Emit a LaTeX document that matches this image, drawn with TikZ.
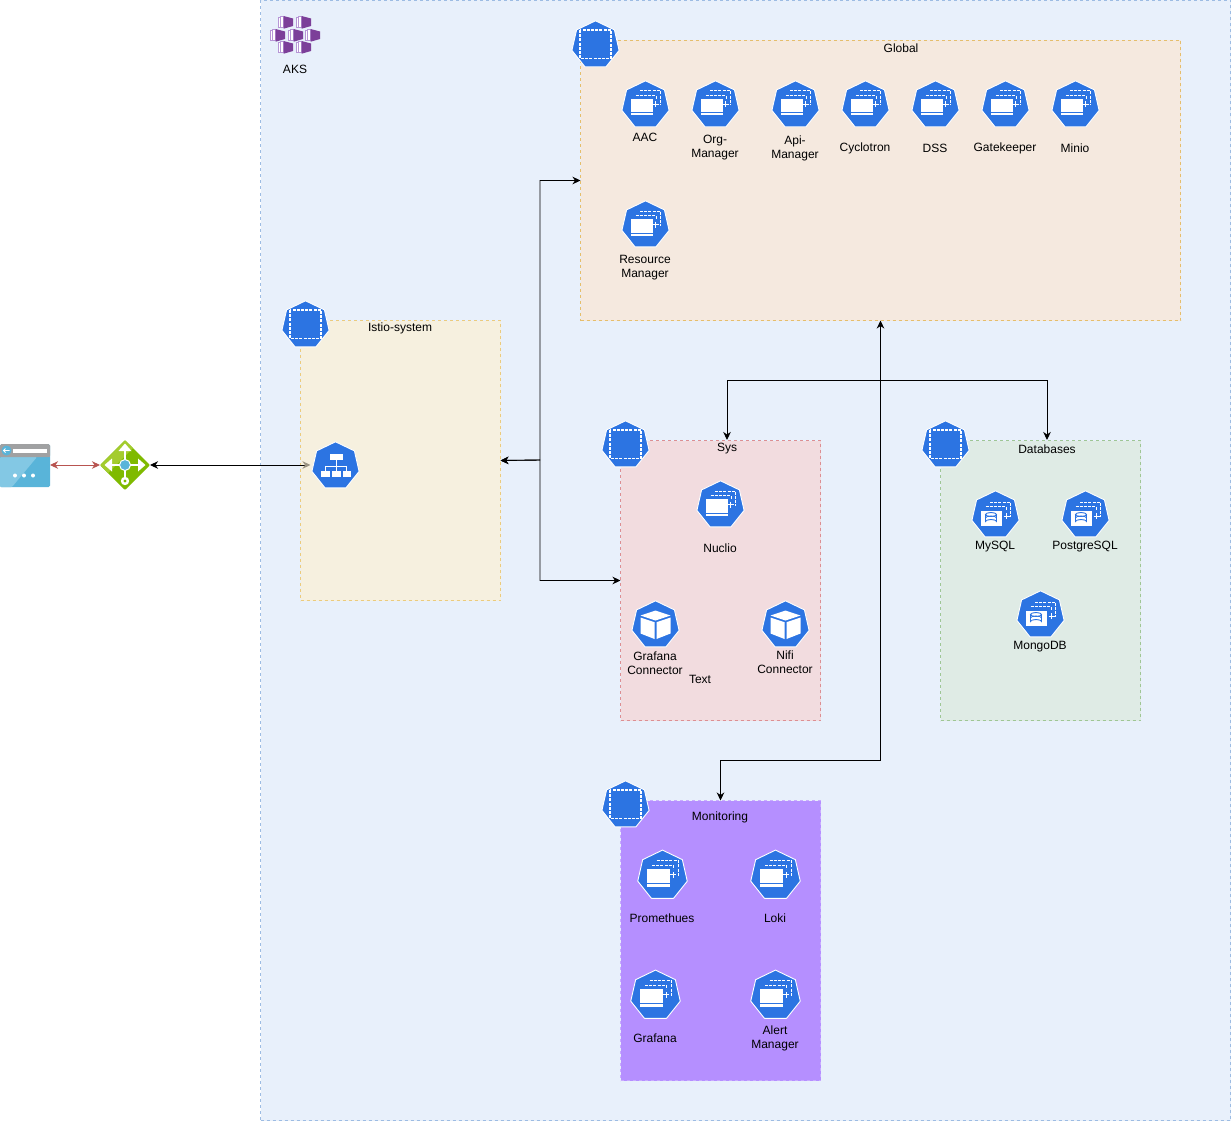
\documentclass[tikz,border=0pt]{standalone}
\usepackage{fontspec}
\setmainfont{Liberation Sans}
\usetikzlibrary{arrows.meta,calc}
\definecolor{kblue}{HTML}{2C74E2}
\definecolor{akspurple}{HTML}{7C3F99}
\definecolor{akslight}{HTML}{B796D6}
\definecolor{aksfill}{HTML}{E8F0FB}
\definecolor{aksline}{HTML}{9DBCE3}
\definecolor{gfill}{HTML}{F5E9DF}
\definecolor{gline}{HTML}{E5BE6C}
\definecolor{ifill}{HTML}{F6F0DF}
\definecolor{iline}{HTML}{EBCB7E}
\definecolor{sfill}{HTML}{F2DCDF}
\definecolor{sline}{HTML}{DC8F93}
\definecolor{dfill}{HTML}{DFEBE5}
\definecolor{dline}{HTML}{9FC695}
\definecolor{mfill}{HTML}{B58FFF}
\definecolor{mline}{HTML}{C9ABFF}
\definecolor{redlink}{HTML}{B85450}
\definecolor{graytip}{HTML}{9C9585}
\definecolor{gwdark}{HTML}{7FBA00}
\definecolor{gwlight}{HTML}{A4CC2E}
\definecolor{azblue}{HTML}{59B4D9}
\definecolor{azlight}{HTML}{83C8E4}
\definecolor{azgray}{HTML}{A0A1A2}
\newcommand{\hept}{(0,-24.2) -- (18.9,-15.1) -- (23.6,5.4) -- (10.5,21.8) -- (-10.5,21.8) -- (-23.6,5.4) -- (-18.9,-15.1) -- cycle}
\tikzset{
  x=1pt,y=-1pt,
  tipb/.tip={Stealth[length=8pt,width=7.5pt,inset=2.5pt]},
  every node/.style={font=\fontsize{12}{14}\selectfont,inner sep=0pt,outer sep=0pt},
  box/.style={draw=#1,dash pattern=on 3pt off 3pt,line width=0.8pt},
  lbl/.style={align=center,text=black},
  hook/.style={minimum width=50pt,minimum height=46pt},
  link/.style={line width=0.9pt,{tipb}-{tipb}},
  heptbase/.style={fill=kblue,draw=white,line width=0.9pt,line join=round},
  dashw/.style={draw=white,line width=1pt,dash pattern=on 3pt off 1.2pt},
  pics/ns/.style={code={
    \path[heptbase] \hept;
    \draw[dashw,line width=1.2pt] (-15.5,-15) rectangle (15.5,13.5);
  }},
  pics/deploy/.style={code={
    \path[heptbase] \hept;
    \draw[dashw] (-5.5,-14) -- (15,-14) -- (15,0.5);
    \draw[dashw] (-10,-9.5) -- (10.5,-9.5) -- (10.5,-6);
    \draw[white,line width=1pt] (7,-0.5) -- (13,-0.5) (10,-3.5) -- (10,2.5);
    \fill[white] (-15,-6) rectangle (7,7.5);
    \fill[white] (-15,8.5) rectangle (7,10.5);
  }},
  pics/dbdeploy/.style={code={
    \path[heptbase] \hept;
    \draw[dashw] (-5.5,-13) -- (15,-13) -- (15,1.5);
    \draw[dashw] (-10,-9) -- (10.5,-9) -- (10.5,-5);
    \draw[white,line width=1pt] (8,1) -- (14,1) (11,-2) -- (11,4);
    \fill[white] (-15,-4) rectangle (6,11);
    \draw[kblue,fill=white,line width=0.9pt] (-10,-0.5) -- (-10,6.5) arc[start angle=180,end angle=360,x radius=5.5,y radius=2] -- (1,-0.5);
    \draw[kblue,fill=white,line width=0.9pt] (-4.5,-0.5) ellipse[x radius=5.5,y radius=2];
    \draw[kblue,line width=0.8pt] (-10,3) arc[start angle=180,end angle=360,x radius=5.5,y radius=2];
  }},
  pics/pod/.style={code={
    \path[heptbase] \hept;
    \fill[white] (0,-14.5) -- (15,-9.5) -- (0,-4.5) -- (-15,-9.5) -- cycle;
    \fill[white] (-15,-7.5) -- (-1,-2.8) -- (-1,14) -- (-15,8.5) -- cycle;
    \fill[white] (15,-7.5) -- (1,-2.8) -- (1,14) -- (15,8.5) -- cycle;
  }},
  pics/svc/.style={code={
    \path[heptbase] \hept;
    \fill[white] (-6,-12) rectangle (7,-6);
    \draw[white,line width=1pt] (0.5,-6) -- (0.5,5) (-10.5,5) -- (-10.5,0.5) -- (11,0.5) -- (11,5);
    \fill[white] (-15,4.5) rectangle (-6,10.5);
    \fill[white] (-4,4.5) rectangle (5,10.5);
    \fill[white] (7,4.5) rectangle (15.5,10.5);
  }},
  pics/akscube/.style={code={
    \draw[akslight,fill=white,line width=0.7pt] (0,1.5) rectangle (2.2,11);
    \draw[akslight,fill=white,line width=0.7pt] (2.8,0.8) rectangle (5,11.8);
    \fill[akspurple] (5.6,0) -- (15,2.5) -- (15,10) -- (5.6,12.7) -- cycle;
  }}
}
\begin{document}
\begin{tikzpicture}
\useasboundingbox (0,0) rectangle (1231,1121);
\fill[white] (0,0) rectangle (1231,1121);

% containers
\node[box=aksline,fill=aksfill,minimum width=970pt,minimum height=1120pt] (aks) at (745.5,560.5) {};
\node[box=gline,fill=gfill,minimum width=600pt,minimum height=280pt] (global) at (880.5,180.5) {};
\node[box=iline,fill=ifill,minimum width=200pt,minimum height=280pt] (istio) at (400.5,460.5) {};
\node[box=sline,fill=sfill,minimum width=200pt,minimum height=280pt] (sys) at (720.5,580.5) {};
\node[box=dline,fill=dfill,minimum width=200pt,minimum height=280pt] (db) at (1040.5,580.5) {};
\node[box=mline,fill=mfill,minimum width=200pt,minimum height=280pt] (mon) at (720.5,940.5) {};

% titles
\node[lbl] (tglobal) at (901,48.5) {Global};
\node[lbl] (tistio) at (400,328.5) {Istio-system};
\node[lbl] (tsys) at (727,449) {Sys};
\node[lbl] (tdb) at (1047,449) {Databases};
\node[lbl] (tmon) at (720,817) {Monitoring};
\node[lbl] (taks) at (295,69) {AKS};

% AKS icon
\foreach \px/\py in {278/16,296/16,270/29,288/29,305/29,278/41,296/41}
  \pic at (\px,\py) {akscube};

% hook nodes for connectors
\node[hook,minimum height=43pt] (browser) at (25,465) {};
\node[hook] (gateway) at (125,465) {};
\node[hook] (svcicon) at (335.5,465) {};
\coordinate (syshook) at (727,440);
\coordinate (dbhook) at (1047,440);
\coordinate (jointl) at (540,460);

% connectors
\draw[link,redlink] (browser.east) -- (gateway.west);
\draw[line width=0.9pt,{tipb}-{tipb[color=graytip]}] (gateway.east) -- (svcicon.west);
\draw[link] (istio.east) -- (jointl) |- (global.west);
\draw[link] (istio.east) -- (jointl) |- (sys.west);
\draw[link] (syshook) -- ++(0,-60) -| (dbhook);
\draw[link] (global.south) |- ($(mon.north)+(0,-40)$) -- (mon.north);

% browser
\fill[azblue,rounded corners=1.5pt] (0,444) rectangle (50,487);
\fill[azlight,rounded corners=1pt] (0,457) -- (37,457) -- (12,487) -- (0,487) -- cycle;
\fill[azgray,rounded corners=1.5pt] (0,444) rectangle (50,457);
\fill[azgray] (0,452) rectangle (50,457);
\fill[white] (13,449) rectangle (46.5,453);
\fill[azblue] (6.5,450.5) circle (5);
\draw[white,line width=0.9pt] (3.5,450.5) -- (9.5,450.5) (5.5,448.5) -- (3.5,450.5) -- (5.5,452.5);
\fill[white] (15,475.5) circle (2) (24,475.5) circle (2) (33,475.5) circle (2);

% gateway
\fill[gwdark,rounded corners=1pt] (100,465) -- (125,440) -- (150,465) -- (125,490) -- cycle;
\fill[gwlight] (100.5,465) -- (125,440.5) -- (133,448) -- (108,473) -- cycle;
\begin{scope}[white]
  \draw[white,line width=2.2pt] (125,447) -- (125,480) (107,465) -- (143,465);
  \fill (125,443.5) -- (131.5,451) -- (118.5,451) -- cycle;
  \fill (104.5,465) -- (112,458.5) -- (112,471.5) -- cycle;
  \fill (145.5,465) -- (138,458.5) -- (138,471.5) -- cycle;
  \fill (125,481) circle (4.2);
\end{scope}
\fill[gwdark] (125,481) circle (1.7);
\fill[azblue,draw=white,line width=1pt] (125,465) circle (5.5);

% namespace icons
\pic at (595.5,45) {ns};
\pic at (305.5,325) {ns};
\pic at (625.5,445) {ns};
\pic at (945.5,445) {ns};
\pic at (625.5,805) {ns};

% workloads
\pic at (335.5,466) {svc};
\foreach \cx in {645.5,715.5,795.5,865.5,935.5,1005.5,1075.5}
  \pic at (\cx,105) {deploy};
\pic at (645.5,225) {deploy};
\pic at (720.5,505) {deploy};
\pic at (655.5,625) {pod};
\pic at (785.5,625) {pod};
\pic at (995.5,515) {dbdeploy};
\pic at (1085.5,515) {dbdeploy};
\pic at (1040.5,615) {dbdeploy};
\pic[scale=1.05] at (662.5,875.5) {deploy};
\pic[scale=1.05] at (775.5,875.5) {deploy};
\pic[scale=1.05] at (655.5,995.5) {deploy};
\pic[scale=1.05] at (775.5,995.5) {deploy};

% labels
\node[lbl] (laac) at (645,137) {AAC};
\node[lbl] (lorg) at (715,148) {Org-\\Manager};
\node[lbl] (lapi) at (795,148) {Api-\\Manager};
\node[lbl] (lcyc) at (865,148) {Cyclotron};
\node[lbl] (ldss) at (935,148) {DSS};
\node[lbl] (lgate) at (1005,148) {Gatekeeper};
\node[lbl] (lmin) at (1075,148) {Minio};
\node[lbl] (lres) at (645,268) {Resource\\Manager};
\node[lbl] (lnuc) at (720,548) {Nuclio};
\node[lbl] (lgc) at (655,663) {Grafana\\Connector};
\node[lbl] (ltext) at (700,679) {Text};
\node[lbl] (lnifi) at (785,662) {Nifi\\Connector};
\node[lbl] (lmy) at (995,547) {MySQL};
\node[lbl] (lpg) at (1085,547) {PostgreSQL};
\node[lbl] (lmongo) at (1040,647) {MongoDB};
\node[lbl] (lprom) at (662,918) {Promethues};
\node[lbl] (lloki) at (775,918) {Loki};
\node[lbl] (lgraf) at (655,1038) {Grafana};
\node[lbl] (lalert) at (775,1038) {Alert\\Manager};
\end{tikzpicture}
\end{document}
